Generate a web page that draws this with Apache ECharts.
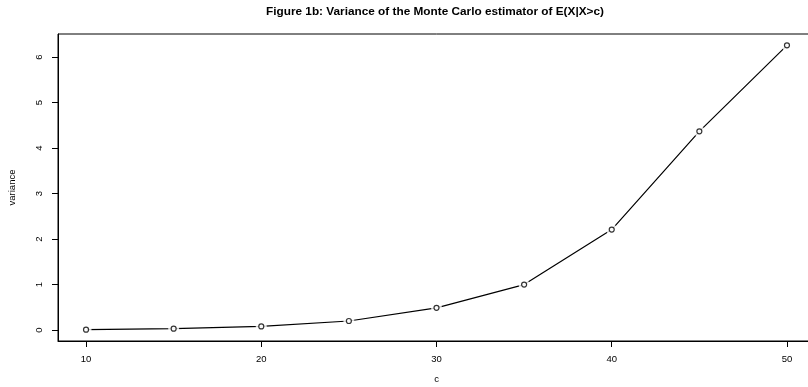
<!DOCTYPE html>
<html>
<head>
<meta charset="utf-8">
<script src="https://cdn.jsdelivr.net/npm/echarts@6/dist/echarts.min.js"></script>
<style>html,body{margin:0;padding:0;background:#fff;overflow:hidden;width:808px;height:387px;}#c{width:830px;height:387px;}</style>
</head>
<body>
<div id="c"></div>
<script>
var cValues = [10, 15, 20, 25, 30, 35, 40, 45, 50];
var variance = [0.01, 0.03, 0.08, 0.20, 0.49, 1.00, 2.21, 4.37, 6.26];
var xTicks = [10, 20, 30, 40, 50];
var yTicks = [0, 1, 2, 3, 4, 5, 6];
var titleText = 'Figure 1b: Variance of the Monte Carlo estimator of E(X|X>c)';

var pts = cValues.map(function (c, i) { return [c, variance[i]]; });
var xr = (Math.max.apply(null, cValues) - Math.min.apply(null, cValues)) * 0.04;
var yr = (Math.max.apply(null, variance) - Math.min.apply(null, variance)) * 0.04;
var font = 'Liberation Sans, Arial, Helvetica, sans-serif';

var chart = echarts.init(document.getElementById('c'), null, {renderer: 'canvas'});
chart.setOption({
  animation: false,
  backgroundColor: '#fff',
  title: {
    text: titleText,
    left: 261, top: 1,
    textStyle: {fontFamily: font, fontWeight: 'bold', fontSize: 11.8, color: '#000'}
  },
  grid: {left: 58, top: 34, width: 757, height: 307, show: true, borderColor: '#000', borderWidth: 1, backgroundColor: 'transparent', containLabel: false, outerBoundsMode: 'none'},
  xAxis: {
    type: 'value', min: Math.min.apply(null, cValues) - xr, max: Math.max.apply(null, cValues) + xr,
    name: 'c', nameLocation: 'middle', nameGap: 33,
    nameTextStyle: {fontFamily: font, fontSize: 9.5, color: '#000'},
    axisLine: {show: true, onZero: false, lineStyle: {color: '#000', width: 1}},
    axisTick: {show: true, length: 6, inside: false, customValues: xTicks, lineStyle: {color: '#000'}},
    axisLabel: {show: true, customValues: xTicks, margin: 13, fontFamily: font, fontSize: 9.5, color: '#000'},
    splitLine: {show: false}
  },
  yAxis: {
    type: 'value', min: Math.min.apply(null, variance) - yr, max: Math.max.apply(null, variance) + yr,
    name: 'variance', nameLocation: 'middle', nameGap: 41, nameRotate: 90,
    nameTextStyle: {fontFamily: font, fontSize: 9.5, color: '#000'},
    axisLine: {show: true, onZero: false, lineStyle: {color: '#000', width: 1}},
    axisTick: {show: true, length: 6, inside: false, customValues: yTicks, lineStyle: {color: '#000'}},
    axisLabel: {show: true, customValues: yTicks, rotate: 90, margin: 14, fontFamily: font, fontSize: 9.5, color: '#000'},
    splitLine: {show: false}
  },
  series: [
    {type: 'line', data: pts, symbol: 'none', lineStyle: {color: '#000', width: 1.2}, z: 2},
    {type: 'scatter', data: pts, symbol: 'circle', symbolSize: 11, itemStyle: {color: '#fff'}, z: 3, silent: true},
    {type: 'scatter', data: pts, symbol: 'circle', symbolSize: 5, itemStyle: {color: '#fff', borderColor: '#000', borderWidth: 1.2}, z: 4, silent: true}
  ]
});
</script>
</body>
</html>
